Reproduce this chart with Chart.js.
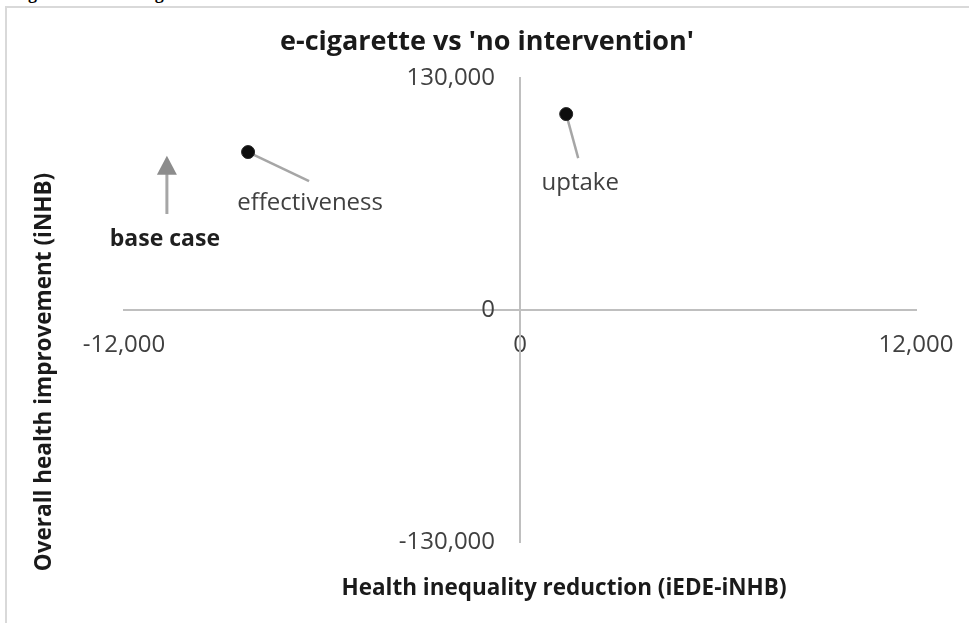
<!DOCTYPE html>
<html>
<head>
<meta charset="utf-8">
<script src="https://cdn.jsdelivr.net/npm/chart.js@4.4.0/dist/chart.umd.min.js"></script>
<style>
  body { margin: 0; background: #fff; }
  #wrap { position: relative; width: 969px; height: 623px; overflow: hidden; }
  #caption { position: absolute; left: 12px; top: -17px; font: bold 18px "Liberation Serif"; color: #000; }
  #frame { position: absolute; left: 5px; top: 6px; right: -10px; bottom: -10px;
           border-left: 2px solid #d9d9d9; border-top: 2px solid #d9d9d9; background: #fff; }
  canvas { position: absolute; left: 0; top: 0; }
</style>
</head>
<body>
<div id="wrap">
  <div id="caption">Figure 4a: Smoking model</div>
  <div id="frame"></div>
  <canvas id="quadrantChart" width="969" height="623"></canvas>
</div>
<script>
// scenario points
const pointNames = ['effectiveness', 'uptake'];
const inequalityReduction = [-8240, 1400];
const healthImprovement = [88500, 109800];

// axis ticks
const xTicks = [-12000, 0, 12000];
const yTicks = [-130000, 0, 130000];

// base case arrow (points up, off the chart)
const baseCaseArrowX = [-10700, -10700];
const baseCaseArrowY = [53800, 86500];

const FONT = '"Open Sans", sans-serif';

const annotations = {
  id: 'annotations',
  beforeDatasetsDraw(chart) {
    const { ctx, scales: { x, y } } = chart;
    ctx.save();
    // leader lines
    const offsets = [[61, 29], [12, 44]];
    ctx.strokeStyle = '#a6a6a6';
    ctx.lineWidth = 2.5;
    inequalityReduction.forEach((v, i) => {
      const px = x.getPixelForValue(v), py = y.getPixelForValue(healthImprovement[i]);
      ctx.beginPath();
      ctx.moveTo(px, py);
      ctx.lineTo(px + offsets[i][0], py + offsets[i][1]);
      ctx.stroke();
    });
    // base case arrow
    const ax = x.getPixelForValue(baseCaseArrowX[0]);
    const y0 = y.getPixelForValue(baseCaseArrowY[0]);
    const y1 = y.getPixelForValue(baseCaseArrowY[1]);
    ctx.strokeStyle = '#a6a6a6';
    ctx.lineWidth = 3;
    ctx.beginPath();
    ctx.moveTo(ax, y0);
    ctx.lineTo(ax, y1 + 15);
    ctx.stroke();
    ctx.fillStyle = '#8c8c8c';
    ctx.beginPath();
    ctx.moveTo(ax, y1);
    ctx.lineTo(ax - 10, y1 + 19);
    ctx.lineTo(ax + 10, y1 + 19);
    ctx.closePath();
    ctx.fill();
    ctx.restore();
  },
  afterDraw(chart) {
    const { ctx, scales: { x, y } } = chart;
    ctx.save();
    ctx.textAlign = 'center';
    ctx.textBaseline = 'middle';
    // point labels
    const labelOffsets = [[62, 51], [14, 69]];
    ctx.fillStyle = '#404040';
    ctx.font = '24px ' + FONT;
    pointNames.forEach((name, i) => {
      const px = x.getPixelForValue(inequalityReduction[i]);
      const py = y.getPixelForValue(healthImprovement[i]);
      ctx.fillText(name, px + labelOffsets[i][0], py + labelOffsets[i][1]);
    });
    // base case label
    ctx.fillStyle = '#1f1f1f';
    ctx.font = 'bold 23px ' + FONT;
    ctx.fillText('base case', x.getPixelForValue(baseCaseArrowX[0]) - 2, y.getPixelForValue(baseCaseArrowY[0]) + 25);
    // chart title
    ctx.fillStyle = '#1a1a1a';
    ctx.font = 'bold 27px ' + FONT;
    ctx.fillText("e-cigarette vs 'no intervention'", 487, 42);
    // axis titles
    ctx.font = 'bold 22.5px ' + FONT;
    ctx.fillText('Health inequality reduction (iEDE-iNHB)', 564, 589);
    ctx.translate(45, 372);
    ctx.rotate(-Math.PI / 2);
    ctx.fillText('Overall health improvement (iNHB)', 0, 0);
    ctx.restore();
  }
};

const ctx = document.getElementById('quadrantChart').getContext('2d');
const quadrantChart = new Chart(ctx, {
  type: 'scatter',
  data: {
    datasets: [{
      label: 'scenarios',
      data: inequalityReduction.map((v, i) => ({ x: v, y: healthImprovement[i] })),
      pointRadius: 6.5,
      pointBackgroundColor: '#0d0d0d',
      pointBorderColor: '#262626',
      pointBorderWidth: 1
    }]
  },
  options: {
    responsive: false,
    animation: false,
    layout: { padding: { left: 124, right: 53, top: 78, bottom: 81 } },
    plugins: { legend: { display: false }, title: { display: false }, tooltip: { enabled: false } },
    scales: {
      x: {
        type: 'linear',
        min: -12000, max: 12000,
        position: { y: 0 },
        afterBuildTicks: axis => { axis.ticks = xTicks.map(v => ({ value: v })); },
        afterFit: axis => { axis.paddingLeft = 0; axis.paddingRight = 0; },
        grid: { display: false, drawTicks: false },
        border: { color: '#bfbfbf', width: 2 },
        ticks: {
          padding: 21,
          color: '#404040',
          font: { family: FONT, size: 24 },
          maxRotation: 0,
          callback: v => v.toLocaleString('en-US')
        }
      },
      y: {
        type: 'linear',
        min: -130000, max: 130000,
        position: { x: 0 },
        afterBuildTicks: axis => { axis.ticks = yTicks.map(v => ({ value: v })); },
        afterFit: axis => { axis.paddingTop = 0; axis.paddingBottom = 0; },
        grid: { display: false, drawTicks: false },
        border: { color: '#bfbfbf', width: 2 },
        ticks: {
          color: '#404040',
          font: { family: FONT, size: 24 },
          // centred axis ignores padding, so keep the gap with trailing spaces
          callback: v => v.toLocaleString('en-US') + '    '
        }
      }
    }
  },
  plugins: [annotations]
});
</script>
</body>
</html>
